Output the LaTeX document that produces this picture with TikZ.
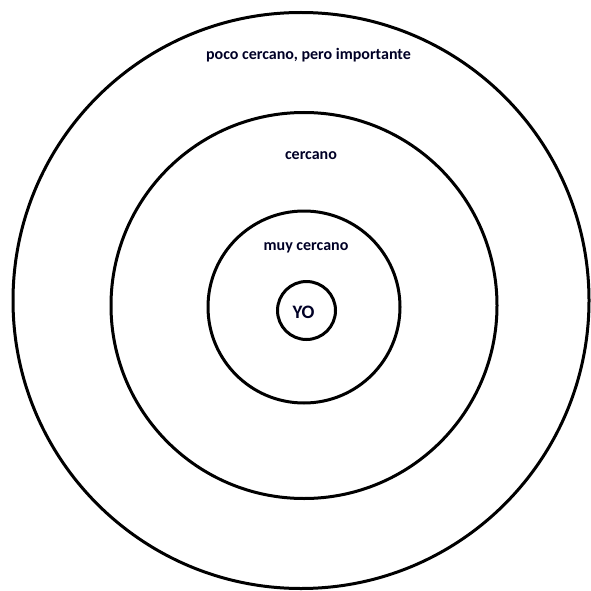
\documentclass[tikz,border=0pt]{standalone}
\usepackage{fontspec}
\setmainfont{Carlito}
\begin{document}
\begin{tikzpicture}[x=1pt,y=-1pt,
  ring/.style={circle,draw=black,line width=3pt,inner sep=0pt,outer sep=0pt},
  lbl/.style={font=\bfseries\fontsize{16}{18}\selectfont,text=black!85!blue,inner sep=0pt,anchor=center}]
\useasboundingbox[fill=white] (0,0) rectangle (590,591);
\node[ring,minimum size=576pt] (outer) at (301,300.5) {};
\node[ring,minimum size=386pt] (middle) at (304,305.5) {};
\node[ring,minimum size=192pt] (inner) at (304,307) {};
\node[ring,minimum size=58pt] (yo) at (306.5,310.5) {};
\node[lbl,font=\bfseries\fontsize{19}{21}\selectfont] (tyo) at (303.5,312) {YO};
\node[lbl] (tpoco) at (308.5,55) {poco cercano, pero importante};
\node[lbl] (tcercano) at (311,156) {cercano};
\node[lbl] (tmuy) at (306,248) {muy cercano};
\end{tikzpicture}
\end{document}
